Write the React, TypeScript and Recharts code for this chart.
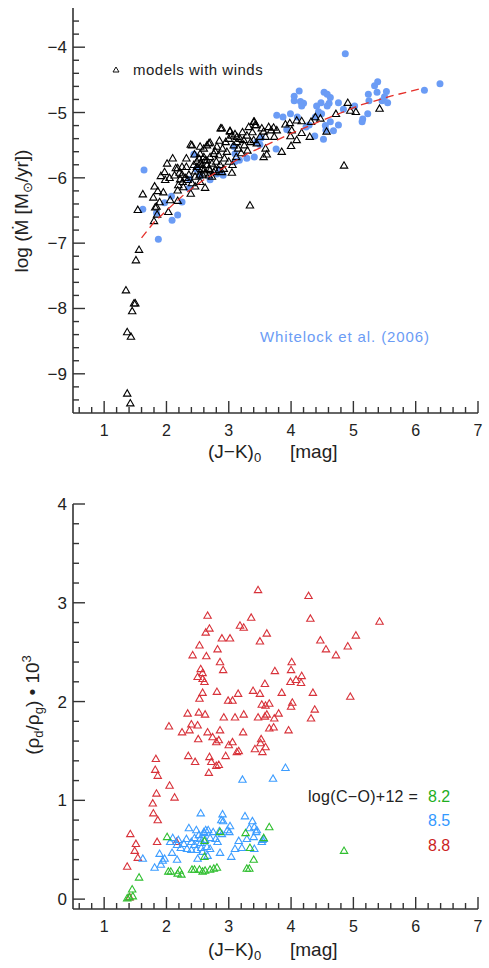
import React from "react";
import { ScatterChart, Scatter, XAxis, YAxis } from "recharts";

type Pt = [number, number];

// ---- top panel: log(Mdot) vs (J-K)0 ----
const modelsWithWinds: Pt[] = [
  [1.56, -7.1], [1.51, -7.26], [1.35, -7.72], [1.48, -7.92], [1.5, -7.92], [1.45, -8.04],
  [1.37, -8.36], [1.43, -8.43], [1.37, -9.3], [1.42, -9.45],
  [1.54, -6.49], [1.62, -6.25], [1.79, -6.3], [1.81, -6.13], [1.86, -6.2], [1.95, -6.22],
  [1.89, -6.37], [1.8, -6.66], [1.82, -6.45], [1.85, -6.56], [2.03, -6.52], [2.06, -6.34],
  [2.18, -6.35], [1.84, -6.44],
  [2.01, -5.78], [2.1, -5.7], [1.91, -5.97], [1.97, -5.91], [1.98, -6.03], [2.05, -6.0],
  [2.13, -5.96], [2.15, -5.85], [2.18, -5.85], [2.21, -5.92], [2.22, -6.02], [2.19, -6.11],
  [2.18, -6.19], [2.27, -6.14], [2.26, -6.06], [2.34, -6.03], [2.32, -5.83], [2.39, -5.49],
  [2.45, -5.64], [2.49, -5.75], [2.52, -5.7], [2.54, -5.63], [2.57, -5.8], [2.6, -5.88],
  [2.53, -5.96], [2.46, -5.98], [2.41, -6.08], [2.39, -6.24], [2.46, -6.13], [2.54, -6.06],
  [2.62, -6.15], [2.62, -5.73], [2.65, -5.5], [2.7, -5.46], [2.7, -5.68], [2.73, -5.78],
  [2.68, -5.86], [2.76, -5.91], [2.78, -5.59], [2.85, -5.43], [2.87, -5.24], [2.84, -5.65],
  [2.86, -5.8], [2.92, -5.86], [2.97, -5.6], [3.0, -5.75], [3.02, -5.28], [3.05, -5.35],
  [3.05, -5.92], [3.1, -5.33], [3.13, -5.45], [3.18, -5.4], [3.24, -5.42], [3.29, -5.35],
  [3.32, -5.22], [3.4, -5.14], [3.42, -5.19], [3.34, -6.42],
  [2.6, -5.68], [2.65, -5.73], [2.57, -5.86], [2.62, -5.93], [2.68, -5.96], [2.73, -5.98],
  [2.78, -5.88], [2.84, -5.88], [2.89, -5.91], [2.54, -5.78], [2.49, -5.83], [2.65, -5.8],
  [2.7, -5.88], [2.76, -5.63], [2.81, -5.52], [2.6, -5.55],
  [2.41, -5.5], [2.25, -5.83], [2.54, -5.52], [2.68, -5.47], [2.89, -5.24], [3.02, -5.29],
  [3.13, -5.37], [3.08, -5.5], [3.15, -5.55], [3.2, -5.62], [3.25, -5.5], [3.3, -5.58],
  [3.35, -5.45], [3.12, -5.68], [2.95, -5.45], [2.9, -5.55], [3.0, -5.4], [3.22, -5.3],
  [3.38, -5.3], [2.8, -5.75], [2.93, -5.7], [3.06, -5.8], [2.58, -5.95], [2.46, -5.9],
  [2.36, -5.95], [2.3, -6.0], [2.32, -5.7], [2.44, -5.8], [2.25, -5.95],
  [3.41, -5.14], [3.44, -5.19], [3.53, -5.24], [3.56, -5.29], [3.64, -5.22], [3.68, -5.27],
  [3.72, -5.23], [3.77, -5.27], [3.73, -5.37], [3.59, -5.37], [3.5, -5.37], [3.4, -5.42],
  [3.45, -5.47], [3.59, -5.55], [3.61, -5.64], [3.56, -5.68], [3.85, -5.6], [4.0, -5.51],
  [4.09, -5.42], [3.99, -5.36], [4.01, -5.27], [3.91, -5.18], [3.98, -5.16], [4.09, -5.12],
  [4.17, -5.13], [4.17, -5.31], [4.3, -5.37], [4.32, -5.14], [4.39, -5.07], [4.47, -5.09],
  [4.57, -5.29], [4.72, -5.02], [4.91, -4.85], [4.95, -4.97], [5.04, -4.99], [5.42, -4.94],
  [4.85, -5.81],
];

const whitelock2006: Pt[] = [
  [1.64, -5.88], [1.62, -6.48], [1.84, -6.54], [1.87, -6.94], [2.08, -6.28], [1.97, -6.38],
  [2.09, -6.65], [2.18, -6.57], [2.25, -6.37], [2.37, -6.02], [2.44, -5.64], [2.48, -5.87],
  [2.54, -5.97], [2.7, -6.03], [2.81, -5.94], [2.91, -5.96], [2.85, -5.88], [3.1, -5.75],
  [3.17, -5.73], [3.29, -5.7], [3.41, -5.68], [3.08, -5.52], [3.1, -5.63], [3.45, -5.45],
  [2.36, -6.16],
  [4.87, -4.1], [6.39, -4.56], [6.14, -4.66], [5.39, -4.53], [5.34, -4.59], [5.24, -4.72],
  [5.38, -4.69], [5.53, -4.68], [5.5, -4.76], [5.46, -4.82], [5.55, -4.85], [5.25, -4.82],
  [5.23, -5.02], [5.15, -5.1], [5.14, -5.14], [4.13, -4.67], [4.05, -4.75], [4.05, -4.82],
  [4.15, -4.83], [4.2, -4.86], [4.17, -4.9], [4.48, -4.85], [4.53, -4.69], [4.58, -4.72],
  [4.63, -4.77], [4.61, -4.86], [4.58, -4.9], [4.76, -4.85], [4.84, -4.95], [4.41, -4.9],
  [4.44, -4.99], [4.49, -5.02], [4.39, -5.07], [4.63, -5.14], [4.55, -5.2], [4.76, -5.19],
  [4.68, -5.28], [4.56, -5.27], [4.52, -5.41], [4.38, -5.36], [4.24, -5.22], [4.29, -5.19],
  [4.1, -5.07], [3.99, -5.02], [3.87, -5.07], [3.77, -5.04], [3.93, -5.26], [3.76, -5.56],
  [3.5, -5.49], [3.52, -5.39], [5.02, -4.9],
];

const fitCurve: Pt[] = [
  [1.6, -6.92], [1.8, -6.68], [2.0, -6.5], [2.3, -6.24], [2.6, -6.03], [3.0, -5.8],
  [3.3, -5.63], [3.6, -5.5], [4.0, -5.32], [4.5, -5.12], [5.1, -4.89], [5.6, -4.75],
  [6.1, -4.63],
];

// ---- bottom panel: dust-to-gas ratio vs (J-K)0, by log(C-O)+12 ----
const co88: Pt[] = [
  [3.47, 3.13], [4.28, 3.07], [2.66, 2.87], [3.36, 2.85], [2.69, 2.74], [2.63, 2.7],
  [3.18, 2.77], [3.24, 2.75], [3.61, 2.69], [2.89, 2.64], [3.02, 2.64], [3.5, 2.61],
  [2.53, 2.57], [2.82, 2.53], [2.42, 2.47], [2.64, 2.46], [2.86, 2.4], [2.91, 2.32],
  [2.55, 2.33], [2.58, 2.29], [2.5, 2.25], [2.61, 2.2], [2.58, 2.23], [2.58, 2.09],
  [2.53, 2.03], [2.81, 2.1], [3.15, 2.08], [3.39, 2.11], [3.5, 2.08], [2.99, 2.01],
  [3.06, 2.01], [3.53, 1.97], [3.59, 1.96], [3.65, 1.98], [3.85, 2.09], [4.01, 2.4],
  [4.0, 2.32], [3.74, 2.31], [3.58, 2.18], [3.99, 2.2], [4.08, 2.22], [4.16, 2.19],
  [4.17, 2.26], [4.02, 1.99], [4.0, 1.95], [2.34, 1.88], [2.52, 1.89], [2.62, 1.87],
  [2.92, 1.84], [3.1, 1.84], [3.24, 1.87], [3.47, 1.84], [3.58, 1.85], [3.73, 1.83],
  [3.8, 1.88], [2.4, 1.77], [2.5, 1.76], [2.04, 1.75], [2.25, 1.69], [2.37, 1.71],
  [2.66, 1.69], [2.86, 1.71], [3.23, 1.69], [3.65, 1.73], [3.72, 1.74], [3.96, 1.71],
  [2.74, 1.64], [2.84, 1.61], [2.51, 1.62], [2.8, 1.59], [3.0, 1.56], [3.06, 1.59],
  [3.52, 1.62], [3.51, 1.58], [3.59, 1.54], [3.42, 1.52], [3.54, 1.49], [3.13, 1.49],
  [3.16, 1.5], [2.95, 1.45], [2.69, 1.44], [2.72, 1.39], [2.8, 1.35], [2.84, 1.36],
  [2.35, 1.45], [2.46, 1.39], [2.68, 1.28], [1.83, 1.42], [1.82, 1.31], [1.86, 1.25],
  [4.31, 2.84], [5.42, 2.81], [4.47, 2.62], [4.56, 2.53], [5.04, 2.67], [4.91, 2.56],
  [4.72, 2.47], [4.35, 2.09], [4.95, 2.05], [4.38, 1.92], [3.61, 1.87], [4.32, 1.83],
  [2.05, 1.15], [1.84, 1.07], [2.13, 1.03], [1.78, 0.97], [1.79, 0.87], [1.86, 0.8],
  [1.42, 0.66], [1.51, 0.56], [1.49, 0.49], [1.54, 0.42], [1.37, 0.33], [1.85, 0.58],
  [2.16, 0.58], [1.41, 0.02],
];

const co85: Pt[] = [
  [3.91, 1.33], [3.71, 1.22], [3.22, 1.21], [3.38, 0.79], [3.41, 0.73], [3.33, 0.72],
  [3.45, 0.7], [3.44, 0.68], [3.4, 0.63], [3.54, 0.6], [3.53, 0.58], [3.41, 0.51],
  [3.26, 0.84], [2.55, 0.87], [2.9, 0.86], [2.88, 0.8], [2.91, 0.79],
  [2.36, 0.72], [2.48, 0.7], [2.63, 0.7], [2.6, 0.68], [2.67, 0.7], [2.52, 0.65],
  [2.61, 0.67], [3.02, 0.74], [2.98, 0.7], [2.85, 0.69], [2.89, 0.66], [3.01, 0.68],
  [3.29, 0.61], [3.16, 0.59], [2.1, 0.62], [2.06, 0.58], [2.19, 0.6], [2.32, 0.61],
  [2.45, 0.62], [2.54, 0.61], [2.17, 0.55], [2.23, 0.52], [2.33, 0.51], [2.4, 0.5],
  [2.48, 0.5], [2.56, 0.52], [2.65, 0.53], [2.7, 0.51], [2.79, 0.61], [3.21, 0.52],
  [3.1, 0.51], [3.04, 0.43], [2.86, 0.47], [2.66, 0.44], [2.5, 0.41], [2.09, 0.47],
  [2.17, 0.4], [1.97, 0.41], [1.94, 0.39], [1.89, 0.46], [1.91, 0.35], [1.81, 0.32],
  [1.62, 0.41], [3.56, 0.61], [2.4, 0.58], [2.45, 0.55], [2.55, 0.57], [2.62, 0.6],
  [2.7, 0.62], [2.28, 0.56], [2.58, 0.48], [2.75, 0.68], [2.82, 0.58],
];

const co82: Pt[] = [
  [3.65, 0.73], [3.56, 0.62], [3.34, 0.52], [3.4, 0.4], [3.29, 0.31], [3.33, 0.31],
  [4.85, 0.49], [3.27, 0.67], [2.01, 0.63], [2.61, 0.59], [2.86, 0.68], [2.61, 0.43],
  [2.03, 0.28], [2.07, 0.28], [2.18, 0.26], [2.24, 0.25], [2.21, 0.29], [2.41, 0.3],
  [2.45, 0.3], [2.53, 0.3], [2.58, 0.28], [2.62, 0.29], [2.7, 0.3], [2.76, 0.31],
  [2.81, 0.32], [1.56, 0.22], [1.45, 0.1], [1.37, 0.01], [1.4, 0.02], [1.46, 0.03],
];

const xMajor = [1, 2, 3, 4, 5, 6, 7];
const topYMajor = [-9, -8, -7, -6, -5, -4];
const botYMajor = [0, 1, 2, 3, 4];

const AX = "#333";
const FONT = "'Liberation Sans', Arial, sans-serif";
const BLUE_DOT = "#6b9cf5";
const RED = "#d8323a";
const BLUE = "#3d9dff";
const GREEN = "#2fbf2f";

const toPts = (a: Pt[]) => a.map(([x, y]) => ({ x, y }));

// tick positions every 0.2 between lo and hi
function stepTicks(lo: number, hi: number) {
  const n = Math.round((hi - lo) / 0.2);
  const out: number[] = [];
  for (let i = 0; i <= n; i++) out.push(Math.round((lo + i * 0.2) * 10) / 10);
  return out;
}
const isMajor = (v: number, majors: number[]) => majors.some((m) => Math.abs(m - v) < 1e-6);
const fmt = (v: number) => (v < 0 ? `\u2212${Math.abs(v)}` : `${v}`);

function makeTick(side: "bottom" | "top" | "left" | "right", majors: number[], labels: boolean) {
  return (props: any) => {
    const { x, y, payload } = props;
    const v = payload.value;
    const major = isMajor(v, majors);
    const len = major ? 12 : 6;
    let l = { x1: x, y1: y, x2: x, y2: y };
    if (side === "bottom") l.y2 = y - len;
    if (side === "top") l.y2 = y + len;
    if (side === "left") l.x2 = x + len;
    if (side === "right") l.x2 = x - len;
    return (
      <g>
        <line {...l} stroke={AX} strokeWidth={1.4} />
        {labels && major && side === "bottom" && (
          <text x={x} y={y + 23} textAnchor="middle" fontSize={16} fontFamily={FONT} fill="#222">
            {fmt(v)}
          </text>
        )}
        {labels && major && side === "left" && (
          <text x={x - 6} y={y + 6} textAnchor="end" fontSize={17} fontFamily={FONT} fill="#222">
            {fmt(v)}
          </text>
        )}
      </g>
    );
  };
}

const Triangle = (color: string) => (p: any) => {
  const { cx, cy } = p;
  if (cx == null || cy == null) return <g />;
  return (
    <polygon
      points={`${cx},${cy - 3.7} ${cx - 3.7},${cy + 2.7} ${cx + 3.7},${cy + 2.7}`}
      fill="none"
      stroke={color}
      strokeWidth={1.1}
    />
  );
};

const Dot = (p: any) => {
  const { cx, cy } = p;
  if (cx == null || cy == null) return <g />;
  return <circle cx={cx} cy={cy} r={3.5} fill={BLUE_DOT} />;
};

const Nothing = () => <g />;

function Frame({
  yDomain,
  yTicks,
  yMajors,
  bottomHeight,
}: {
  yDomain: [number, number];
  yTicks: number[];
  yMajors: number[];
  bottomHeight: number;
}) {
  const xTicks = stepTicks(0.6, 7);
  const line = { stroke: AX, strokeWidth: 1.6 };
  return [
    <XAxis
      key="xb"
      xAxisId="b"
      type="number"
      dataKey="x"
      domain={[0.5, 7]}
      allowDataOverflow
      ticks={xTicks}
      interval={0}
      height={bottomHeight}
      tickSize={0}
      tickMargin={0}
      tickLine={false}
      axisLine={line}
      tick={makeTick("bottom", xMajor, true)}
    />,
    <XAxis
      key="xt"
      xAxisId="t"
      orientation="top"
      type="number"
      dataKey="x"
      domain={[0.5, 7]}
      allowDataOverflow
      ticks={xTicks}
      interval={0}
      height={0}
      tickSize={0}
      tickMargin={0}
      tickLine={false}
      axisLine={line}
      tick={makeTick("top", xMajor, false)}
    />,
    <YAxis
      key="yl"
      yAxisId="l"
      type="number"
      dataKey="y"
      domain={yDomain}
      allowDataOverflow
      ticks={yTicks}
      interval={0}
      width={73}
      tickSize={0}
      tickMargin={0}
      tickLine={false}
      axisLine={line}
      tick={makeTick("left", yMajors, true)}
    />,
    <YAxis
      key="yr"
      yAxisId="r"
      orientation="right"
      type="number"
      dataKey="y"
      domain={yDomain}
      allowDataOverflow
      ticks={yTicks}
      interval={0}
      width={0}
      tickSize={0}
      tickMargin={0}
      tickLine={false}
      axisLine={line}
      tick={makeTick("right", yMajors, false)}
    />,
  ];
}

export default function App() {
  const t = { fontFamily: FONT, fill: "#222" };
  return (
    <div style={{ position: "absolute", left: 0, top: 0, width: 489, height: 968, background: "#fff" }}>
      <div style={{ position: "absolute", left: 0, top: 0 }}>
        <ScatterChart width={489} height={470} margin={{ top: 8, right: 11, bottom: 0, left: 0 }}>
          {Frame({ yDomain: [-9.6, -3.4], yTicks: stepTicks(-9.4, -3.6), yMajors: topYMajor, bottomHeight: 57 })}
          <Scatter xAxisId="b" yAxisId="l" data={toPts(whitelock2006)} shape={Dot} isAnimationActive={false} />
          <Scatter xAxisId="b" yAxisId="l" data={toPts(modelsWithWinds)} shape={Triangle("#000")} isAnimationActive={false} />
          <Scatter
            xAxisId="b"
            yAxisId="l"
            data={toPts(fitCurve)}
            line={{ stroke: "#e5302a", strokeWidth: 1.3, strokeDasharray: "8 5" }}
            lineType="joint"
            shape={Nothing}
            isAnimationActive={false}
          />
        </ScatterChart>
      </div>
      <div style={{ position: "absolute", left: 0, top: 470 }}>
        <ScatterChart width={489} height={498} margin={{ top: 34, right: 11, bottom: 0, left: 0 }}>
          {Frame({ yDomain: [-0.1, 4], yTicks: stepTicks(0, 4), yMajors: botYMajor, bottomHeight: 59 })}
          <Scatter xAxisId="b" yAxisId="l" data={toPts(co88)} shape={Triangle(RED)} isAnimationActive={false} />
          <Scatter xAxisId="b" yAxisId="l" data={toPts(co85)} shape={Triangle(BLUE)} isAnimationActive={false} />
          <Scatter xAxisId="b" yAxisId="l" data={toPts(co82)} shape={Triangle(GREEN)} isAnimationActive={false} />
        </ScatterChart>
      </div>
      <svg width={489} height={968} style={{ position: "absolute", left: 0, top: 0, pointerEvents: "none" }}>
        {/* top panel texts */}
        <polygon points="116,67 113,72 119,72" fill="none" stroke="#111" strokeWidth={1} />
        <text x={133} y={75} fontSize={15} letterSpacing={0.5} {...t}>models with winds</text>
        <text x={260} y={342} fontSize={15} letterSpacing={0.9} fontFamily={FONT} fill={BLUE_DOT}>
          Whitelock et al. (2006)
        </text>
        <text x={208} y={458} fontSize={19} {...t}>
          (J{"\u2212"}K)<tspan fontSize={13} dy={4}>0</tspan>
          <tspan x={290} dy={-4}>[mag]</tspan>
        </text>
        <text transform="translate(28,211) rotate(-90)" textAnchor="middle" fontSize={19} {...t}>
          log ({"\u1E40"} [M<tspan fontSize={13} dy={4}>{"\u2299"}</tspan>
          <tspan dy={-4}>/yr])</tspan>
        </text>
        {/* bottom panel texts */}
        <text x={308} y={802} fontSize={16} letterSpacing={0.3} {...t}>log(C{"\u2212"}O)+12 =</text>
        <text x={428} y={802} fontSize={16} fontFamily={FONT} fill="#1fae1f">8.2</text>
        <text x={428} y={826} fontSize={16} fontFamily={FONT} fill="#3399ff">8.5</text>
        <text x={428} y={851} fontSize={16} fontFamily={FONT} fill="#cc1f1f">8.8</text>
        <text x={208} y={956} fontSize={19} {...t}>
          (J{"\u2212"}K)<tspan fontSize={13} dy={4}>0</tspan>
          <tspan x={290} dy={-4}>[mag]</tspan>
        </text>
        <text transform="translate(39,705) rotate(-90)" textAnchor="middle" fontSize={19} {...t}>
          ({"\u03C1"}<tspan fontSize={13} dy={4}>d</tspan>
          <tspan dy={-4}>/{"\u03C1"}</tspan>
          <tspan fontSize={13} dy={4}>g</tspan>
          <tspan dy={-4}>)  {"\u2022"} 10</tspan>
          <tspan fontSize={13} dy={-8}>3</tspan>
        </text>
      </svg>
    </div>
  );
}
